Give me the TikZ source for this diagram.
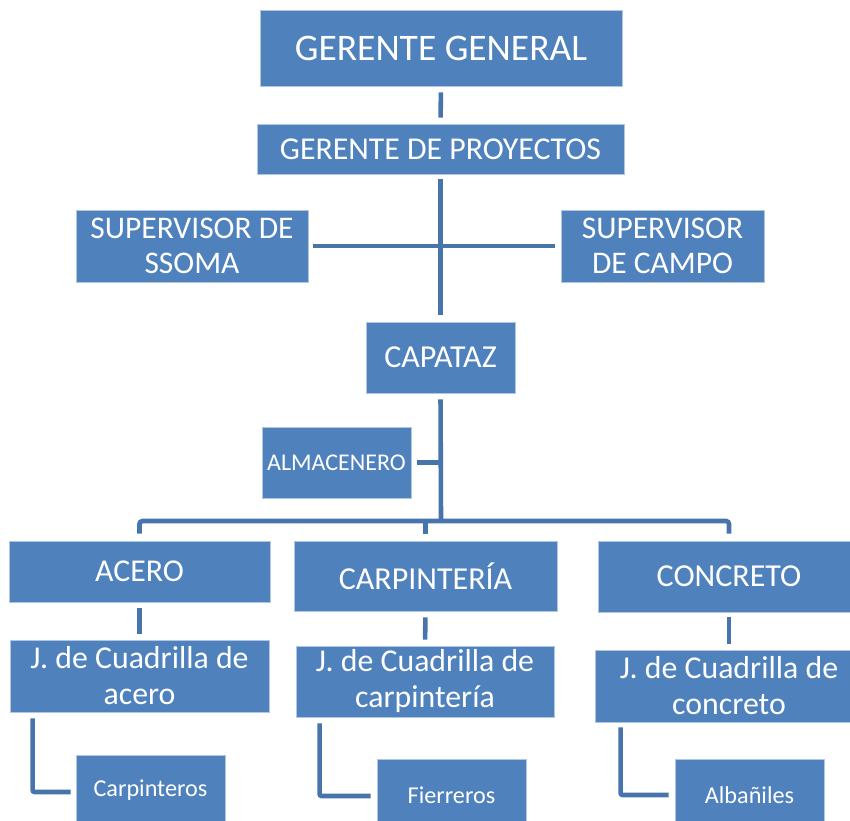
\documentclass[tikz,border=0pt]{standalone}
\usepackage{fontspec}
\setmainfont{Carlito}
\usetikzlibrary{calc}
\definecolor{boxfill}{RGB}{79,129,189}
\definecolor{boxedge}{RGB}{175,198,228}
\definecolor{linecol}{RGB}{72,116,172}
\tikzset{
  orgbox/.style={draw=boxedge, line width=0.8pt, fill=boxfill, text=white,
    inner sep=0pt, align=center, anchor=center},
  conn/.style={draw=linecol, line width=4.6pt},
}
\begin{document}
\begin{tikzpicture}[x=1pt,y=-1pt]
\useasboundingbox (0,0) rectangle (850,820);
\clip (0,0) rectangle (850,820);
% boxes
\node[orgbox, minimum width=362pt, minimum height=76pt, font=\fontsize{37.5}{44}\selectfont] (gg) at (441,48) {GERENTE GENERAL};
\node[orgbox, minimum width=367pt, minimum height=50pt, font=\fontsize{31.8}{36}\selectfont] (gp) at (440.5,149) {GERENTE DE PROYECTOS};
\node[orgbox, minimum width=232pt, minimum height=72pt, font=\fontsize{31.5}{35}\selectfont] (ss) at (192,246) {SUPERVISOR DE\\SSOMA};
\node[orgbox, minimum width=203pt, minimum height=72pt, font=\fontsize{31.5}{35}\selectfont] (sc) at (662.5,246) {SUPERVISOR\\DE CAMPO};
\node[orgbox, minimum width=149pt, minimum height=71pt, font=\fontsize{32}{36}\selectfont] (cap) at (440.5,357.5) {CAPATAZ};
\node[orgbox, minimum width=149pt, minimum height=71pt, font=\fontsize{24}{28}\selectfont] (alm) at (336.5,462.5) {ALMACENERO};
\node[orgbox, minimum width=261pt, minimum height=61pt, font=\fontsize{31.8}{36}\selectfont] (acero) at (139.5,571.5) {ACERO};
\node[orgbox, minimum width=263pt, minimum height=70pt, font=\fontsize{32}{36}\selectfont] (carp) at (425.5,576) {CARPINTERÍA};
\node[orgbox, minimum width=262pt, minimum height=71pt, font=\fontsize{32}{36}\selectfont] (conc) at (729,576.5) {CONCRETO};
\node[orgbox, minimum width=259pt, minimum height=72pt, font=\fontsize{31.8}{36}\selectfont] (ja) at (139.5,676) {J. de Cuadrilla de\\acero};
\node[orgbox, minimum width=258pt, minimum height=71pt, font=\fontsize{31.8}{36}\selectfont] (jc) at (425,681.5) {J. de Cuadrilla de\\carpintería};
\node[orgbox, minimum width=268pt, minimum height=72pt, font=\fontsize{31.8}{36}\selectfont] (jco) at (729,686) {J. de Cuadrilla de\\concreto};
\node[orgbox, minimum width=149pt, minimum height=70pt, font=\fontsize{24.2}{28}\selectfont] (cpt) at (150.5,790) {Carpinteros};
\node[orgbox, minimum width=149pt, minimum height=72pt, font=\fontsize{24.2}{28}\selectfont] (fie) at (451.5,795) {Fierreros};
\node[orgbox, minimum width=149pt, minimum height=72pt, font=\fontsize{24.2}{28}\selectfont] (alb) at (749.5,795) {Albañiles};
% helper coordinates
\coordinate (bar) at (441,521);
% connectors
\draw[conn, shorten <=6pt, shorten >=6pt] (gg.south) -- (gp.north);
\draw[conn, shorten <=5pt, shorten >=7pt] (gp.south) -- (cap.north);
\draw[conn, shorten <=5pt, shorten >=6pt] (ss.east) -- (sc.west);
\draw[conn, shorten <=6pt] (cap.south) -- (bar);
\draw[conn, shorten <=6pt] (alm.east) -- (cap.south |- alm.east);
\draw[conn, rounded corners=3pt] ([yshift=7pt]acero.north) |- (bar) -| ([yshift=7pt]conc.north);
\draw[conn] ([yshift=7pt]carp.north) -- (carp.north |- bar);
\draw[conn, shorten <=6pt, shorten >=6pt] (acero.south) -- (ja.north);
\draw[conn, shorten <=6pt, shorten >=6pt] (carp.south) -- (jc.north);
\draw[conn, shorten <=5pt, shorten >=6pt] (conc.south) -- (jco.north);
\draw[conn, rounded corners=2pt] ([xshift=23pt,yshift=-6pt]ja.south west) |- ([xshift=-5pt,yshift=-2pt]cpt.west);
\draw[conn, rounded corners=2pt] ([xshift=24pt,yshift=-6pt]jc.south west) |- ([xshift=-6pt,yshift=-1pt]fie.west);
\draw[conn, rounded corners=2pt] ([xshift=26pt,yshift=-5pt]jco.south west) |- ([xshift=-6pt]alb.west);
\end{tikzpicture}
\end{document}
